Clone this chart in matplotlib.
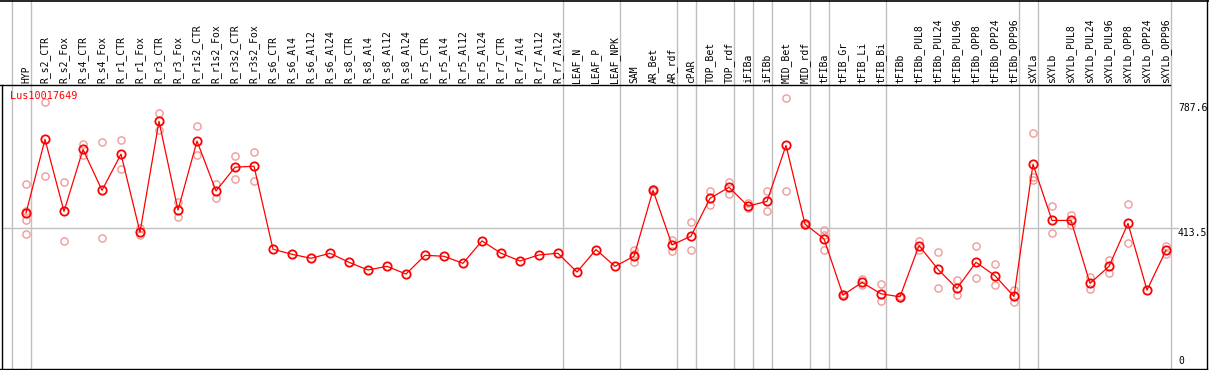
import matplotlib
matplotlib.use("Agg")
import matplotlib.pyplot as plt
from matplotlib.lines import Line2D
from matplotlib.transforms import blended_transform_factory

# DATA
gene = "Lus10017649"
samples = ["HYP", "R_s2_CTR", "R_s2_Fox", "R_s4_CTR", "R_s4_Fox", "R_r1_CTR", "R_r1_Fox",
           "R_r3_CTR", "R_r3_Fox", "R_r1s2_CTR", "R_r1s2_Fox", "R_r3s2_CTR", "R_r3s2_Fox",
           "R_s6_CTR", "R_s6_Al4", "R_s6_Al12", "R_s6_Al24", "R_s8_CTR", "R_s8_Al4",
           "R_s8_Al12", "R_s8_Al24", "R_r5_CTR", "R_r5_Al4", "R_r5_Al12", "R_r5_Al24",
           "R_r7_CTR", "R_r7_Al4", "R_r7_Al12", "R_r7_Al24", "LEAF_N", "LEAF_P", "LEAF_NPK",
           "SAM", "AR_Bet", "AR_rdf", "cPAR", "TOP_Bet", "TOP_rdf", "iFIBa", "iFIBb",
           "MID_Bet", "MID_rdf", "tFIBa", "tFIB_Gr", "tFIB_Li", "tFIB_Bi", "tFIBb",
           "tFIBb_PUL8", "tFIBb_PUL24", "tFIBb_PUL96", "tFIBb_OPP8", "tFIBb_OPP24",
           "tFIBb_OPP96", "sXYLa", "sXYLb", "sXYLb_PUL8", "sXYLb_PUL24", "sXYLb_PUL96",
           "sXYLb_OPP8", "sXYLb_OPP24", "sXYLb_OPP96"]

means = [459, 679, 464, 649, 527, 635, 402, 733, 468, 674, 525, 596, 599,
         351, 336, 324, 339, 312, 289, 300, 277, 333, 330, 309, 376, 339, 316, 334, 339,
         283, 350, 300,
         330, 527, 364, 390, 503, 536, 480, 494, 661, 426, 382, 214, 252, 218, 209,
         362, 291, 234, 312, 272, 210, 605, 437, 437, 249, 300, 428, 229, 348]

replicates = [[545, 466, 438, 397], [790, 569], [551, 375], [666, 633], [671, 384],
              [677, 591], [414, 394], [758, 707], [492, 446], [718, 632], [547, 503],
              [628, 561], [640, 554],
              [], [], [], [], [], [], [], [], [], [], [], [], [], [], [], [], [], [], [],
              [349, 338, 313], [530, 524], [380, 347], [431, 348], [525, 482], [552, 517],
              [488, 473], [525, 464], [802, 524], [430, 422], [409, 394, 348], [216, 212],
              [263, 245], [246, 196], [212, 206], [376, 349], [342, 236], [259, 213],
              [360, 264], [306, 243], [228, 194], [697, 566, 557], [479, 399], [453, 424],
              [268, 231], [318, 281], [485, 369], [], [361, 338]]

# last sample of each group (separator lines)
group_ends = [-1, 0, 28, 31, 34, 35, 37, 38, 39, 41, 42, 45, 52, 53, 60]
y_ticks = [787.6, 413.5, 0]
y_tick_labels = ["787.6", "413.5", "0"]

# FIGURE
W, H = 1209, 370
fig = plt.figure(figsize=(W / 100, H / 100), dpi=100)
fig.patch.set_facecolor("white")

def fx(px):
    return px / W

def fy(py):
    return 1 - py / H

ax = fig.add_axes([fx(2), fy(369), fx(1207) - fx(2), fy(85) - fy(369)])
ax.set_xlim((2 - 26) / 19, (1207 - 26) / 19)
ax.set_ylim((366.8 - 369) / 0.3349, (366.8 - 85) / 0.3349)
ax.axis("off")

mono = "DejaVu Sans Mono"
grey = "#c0c0c0"

# separators across full height
top_frac = 1 + 85 / 284
for g in group_ends:
    ax.axvline(g + 0.25, 0, top_frac, color=grey, lw=1, clip_on=False, zorder=1)
ax.axhline(y_ticks[1], 0, (1178 - 2) / 1205, color=grey, lw=1, zorder=1)

x = list(range(len(samples)))
for i, reps in enumerate(replicates):
    if reps:
        ax.plot([i] * len(reps), reps, "o", ms=5.2, mfc="none", mec="#f09a9a",
                mew=1.0, zorder=2, clip_on=False)
ax.plot(x, means, "-", color="red", lw=0.9, zorder=3)
ax.plot(x, means, "o", ms=6, mfc="none", mec="red", mew=1.3, zorder=4)

# sample labels (x in data, y in figure)
lab_tr = blended_transform_factory(ax.transData, fig.transFigure)
for i, s in enumerate(samples):
    ax.text(i, fy(83), s, rotation=90, ha="center", va="bottom", fontsize=7,
            family=mono, transform=lab_tr)

# right value labels
xr = (1178 - 26) / 19
ax.text(xr, y_ticks[0], y_tick_labels[0], ha="left", va="top", fontsize=7, family=mono)
ax.text(xr, y_ticks[1], y_tick_labels[1], ha="left", va="top", fontsize=7, family=mono)
ax.text(xr, y_ticks[2] + 3, y_tick_labels[2], ha="left", va="bottom", fontsize=7, family=mono)

fig.text(fx(10), fy(91), gene, color="red", ha="left", va="top", fontsize=7.3, family=mono)

# borders
k = "black"
fig.add_artist(Line2D([0, 1], [fy(0.5), fy(0.5)], color=k, lw=1.2))
fig.add_artist(Line2D([0, fx(1170)], [fy(85), fy(85)], color=k, lw=1))
fig.add_artist(Line2D([fx(1207), fx(1207)], [0, 1], color=k, lw=1))
fig.add_artist(Line2D([fx(1.5), fx(1.5)], [fy(85), fy(369)], color=k, lw=1))
fig.add_artist(Line2D([0, fx(1207)], [fy(369), fy(369)], color=k, lw=1))

fig.savefig("out.png", dpi=100)
